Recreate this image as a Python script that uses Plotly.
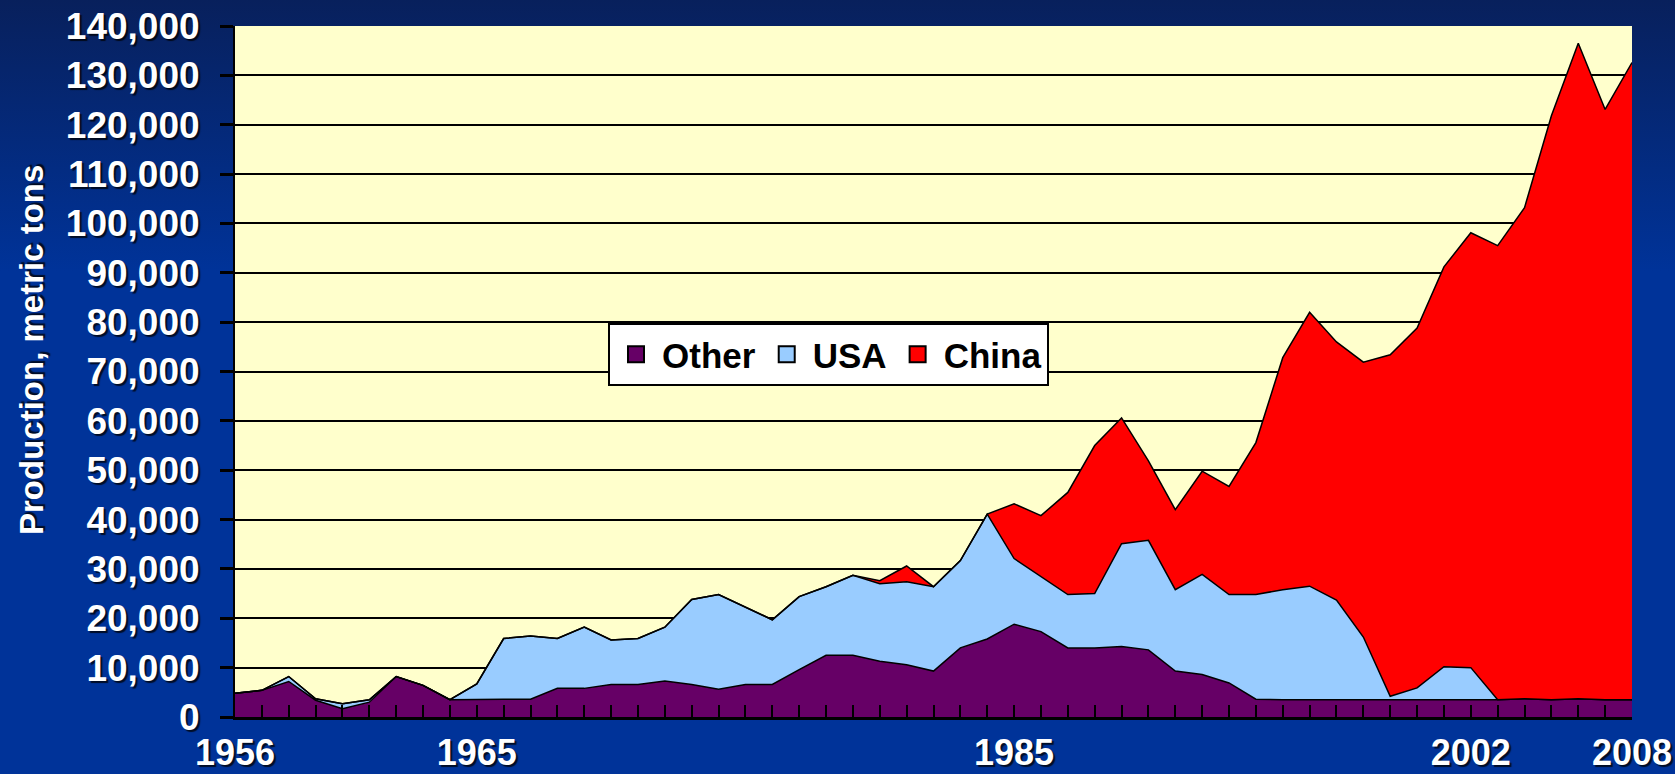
import base64
import plotly.graph_objects as go

# ---------------- data ----------------
years = list(range(1956, 2009))

other = [4800, 5400, 7200, 3400, 1700, 3000, 8200, 6400, 3500, 3600,      # 1956-1965
         3600, 3600, 5800, 5800, 6600, 6600, 7300, 6600, 5600, 6600,      # 1966-1975
         6600, 9600, 12500, 12500, 11300, 10600, 9300, 14000, 15800, 18800,  # 1976-1985
         17300, 14000, 14000, 14300, 13600, 9300, 8600, 6900, 3600, 3500,   # 1986-1995
         3500, 3500, 3500, 3500, 3500, 3500, 3500, 3500, 3700, 3500,      # 1996-2005
         3700, 3500, 3500]                                                # 2006-2008

usa = [0, 0, 1000, 300, 1000, 500, 0, 0, 0, 3100,
       12300, 12800, 10100, 12400, 9000, 9300, 10900, 17200, 19200, 15600,
       13100, 14800, 13900, 16200, 15700, 16800, 17100, 17700, 25300, 13300,
       11100, 10800, 11000, 20800, 22200, 16500, 20300, 17900, 21200, 22300,
       23000, 20200, 12700, 700, 2400, 6700, 6500, 0, 0, 0,
       0, 0, 0]

china = [0, 0, 0, 0, 0, 0, 0, 0, 0, 0,
         0, 0, 0, 0, 0, 0, 0, 0, 0, 0,
         0, 0, 0, 0, 600, 3200, 0, 0, 0, 11100,
         12400, 20700, 30000, 25500, 16100, 16200, 20900, 21900, 30800, 47000,
         55500, 52300, 55700, 69200, 72900, 81000, 88100, 92000, 99500, 118300,
         132800, 119600, 129100]

series_names = ["Other", "USA", "China"]
series_colors = ["#660066", "#99CCFF", "#FF0000"]

x_label_years = [1956, 1965, 1985, 2002, 2008]
y_tick_values = list(range(0, 140001, 10000))
y_title = "Production, metric tons"

# ---------------- layout geometry ----------------
W, H = 1675, 774
ML, MR, MT, MB = 235, 43, 26, 57
PW, PH = W - ML - MR, H - MT - MB

FONT = "Liberation Sans, Arial, sans-serif"
SHADOW = "2px 2px 1px rgba(0,0,0,0.75)"

fig = go.Figure()

for name, vals, col in zip(series_names, [other, usa, china], series_colors):
    fig.add_trace(go.Scatter(
        x=years, y=vals, name=name, mode="lines", stackgroup="one",
        line=dict(color="black", width=1.5), fillcolor=col,
        showlegend=False, hoverinfo="x+y+name"))

# legend entries (square swatches)
for name, col in zip(series_names, series_colors):
    fig.add_trace(go.Scatter(
        x=[None], y=[None], name=name, mode="markers",
        marker=dict(symbol="square", size=16, color=col,
                    line=dict(color="black", width=2)),
        showlegend=True))

ticktext = [str(y) if y in x_label_years else "" for y in years]

# gradient background for the page
svg = (f'<svg xmlns="http://www.w3.org/2000/svg" width="{W}" height="{H}" '
       f'viewBox="0 0 {W} {H}" preserveAspectRatio="none">'
       '<defs><linearGradient id="g" x1="0" y1="0" x2="0" y2="1">'
       '<stop offset="0" stop-color="#08205C"/>'
       '<stop offset="0.35" stop-color="#003399"/>'
       '<stop offset="1" stop-color="#003399"/>'
       '</linearGradient></defs>'
       f'<rect width="{W}" height="{H}" fill="url(#g)"/></svg>')
svg_uri = "data:image/svg+xml;base64," + base64.b64encode(svg.encode()).decode()

fig.update_layout(
    width=W, height=H,
    margin=dict(l=ML, r=MR, t=MT, b=MB, pad=0, autoexpand=False),
    paper_bgcolor="#003399",
    plot_bgcolor="#FFFFCC",
    images=[dict(source=svg_uri, xref="paper", yref="paper",
                 x=-ML / PW, y=1 + MT / PH, sizex=W / PW, sizey=H / PH,
                 xanchor="left", yanchor="top", sizing="stretch",
                 layer="below")],
    shapes=[dict(type="rect", xref="paper", yref="paper", x0=0, x1=1,
                 y0=0, y1=1, fillcolor="#FFFFCC", line=dict(width=0),
                 layer="below")],
    # labelled axis: inside ticks (labels sit close to the axis line)
    xaxis=dict(range=[1956, 2008], tickmode="array", tickvals=years,
               ticktext=ticktext, ticks="inside", ticklen=12, tickwidth=2,
               tickcolor="black", showline=True, linecolor="black",
               linewidth=3, showgrid=False, zeroline=False,
               automargin=False, ticklabelstandoff=2,
               tickfont=dict(family=FONT, size=36, color="white",
                             weight="bold", shadow=SHADOW)),
    # overlay axis: outside ticks only
    xaxis2=dict(range=[1956, 2008], overlaying="x", anchor="y",
                side="bottom", tickmode="array", tickvals=years,
                ticks="outside", ticklen=10, tickwidth=3, tickcolor="black",
                showticklabels=False, showgrid=False, zeroline=False,
                showline=False, automargin=False),
    yaxis=dict(range=[0, 140000], tickmode="array", tickvals=y_tick_values,
               tickformat=",d", ticks="outside", ticklen=13, tickwidth=3,
               tickcolor="black", showline=True, linecolor="black",
               linewidth=2, showgrid=True, gridcolor="black", gridwidth=1.5,
               zeroline=False, ticklabelstandoff=13, automargin=False,
               tickfont=dict(family=FONT, size=37, color="white",
                             weight="bold", shadow=SHADOW)),
    legend=dict(orientation="h", traceorder="normal",
                x=(608 - ML) / PW, y=(H - MB - 323) / PH,
                xanchor="left", yanchor="top", bgcolor="white",
                bordercolor="black", borderwidth=2, itemwidth=42,
                font=dict(family=FONT, size=35, color="black", weight="bold"),
                itemclick=False),
    annotations=[dict(text=y_title, textangle=-90, xref="paper", yref="paper",
                      x=(31 - ML) / PW, y=(H - MB - 350) / PH,
                      xanchor="center", yanchor="middle", showarrow=False,
                      font=dict(family=FONT, size=33, color="white",
                                weight="bold", shadow=SHADOW))],
    showlegend=True,
)

fig.write_html("out.html", config={"displayModeBar": False})
